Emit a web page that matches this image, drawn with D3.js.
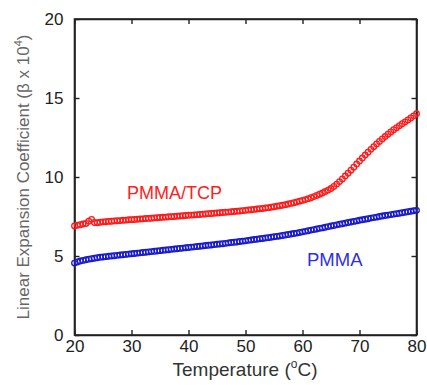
<!DOCTYPE html>
<html>
<head>
<meta charset="utf-8">
<script src="https://cdn.jsdelivr.net/npm/d3@7"></script>
<style>
	body { margin: 0; background: #fff; }
	svg { display: block; font-family: "Liberation Sans", Arial, sans-serif; }
</style>
</head>
<body>
<div id="chart"></div>
<script>
// temperature (°C), one reading every 0.5 °C
var temps = [
	20, 20.5, 21, 21.5, 22, 22.5, 23, 23.5, 24, 24.5,
	25, 25.5, 26, 26.5, 27, 27.5, 28, 28.5, 29, 29.5,
	30, 30.5, 31, 31.5, 32, 32.5, 33, 33.5, 34, 34.5,
	35, 35.5, 36, 36.5, 37, 37.5, 38, 38.5, 39, 39.5,
	40, 40.5, 41, 41.5, 42, 42.5, 43, 43.5, 44, 44.5,
	45, 45.5, 46, 46.5, 47, 47.5, 48, 48.5, 49, 49.5,
	50, 50.5, 51, 51.5, 52, 52.5, 53, 53.5, 54, 54.5,
	55, 55.5, 56, 56.5, 57, 57.5, 58, 58.5, 59, 59.5,
	60, 60.5, 61, 61.5, 62, 62.5, 63, 63.5, 64, 64.5,
	65, 65.5, 66, 66.5, 67, 67.5, 68, 68.5, 69, 69.5,
	70, 70.5, 71, 71.5, 72, 72.5, 73, 73.5, 74, 74.5,
	75, 75.5, 76, 76.5, 77, 77.5, 78, 78.5, 79, 79.5,
	80
];

var pmmaTcp = [
	6.90, 6.95, 6.98, 7.03, 7.06, 7.20, 7.32, 7.12, 7.10, 7.14,
	7.16, 7.17, 7.19, 7.20, 7.22, 7.23, 7.24, 7.26, 7.27, 7.29,
	7.30, 7.31, 7.33, 7.34, 7.35, 7.37, 7.38, 7.39, 7.41, 7.42,
	7.44, 7.45, 7.46, 7.48, 7.49, 7.50, 7.52, 7.53, 7.55, 7.56,
	7.58, 7.59, 7.60, 7.62, 7.63, 7.65, 7.66, 7.68, 7.69, 7.71,
	7.72, 7.74, 7.75, 7.77, 7.78, 7.80, 7.82, 7.83, 7.85, 7.87,
	7.89, 7.91, 7.93, 7.95, 7.97, 7.99, 8.01, 8.04, 8.06, 8.09,
	8.12, 8.15, 8.18, 8.21, 8.25, 8.29, 8.33, 8.37, 8.42, 8.47,
	8.52, 8.57, 8.63, 8.69, 8.76, 8.83, 8.91, 8.99, 9.08, 9.17,
	9.27, 9.40, 9.55, 9.71, 9.88, 10.06, 10.24, 10.43, 10.62, 10.82,
	11.01, 11.20, 11.39, 11.57, 11.75, 11.92, 12.09, 12.25, 12.41, 12.56,
	12.71, 12.85, 12.99, 13.12, 13.25, 13.37, 13.49, 13.61, 13.74, 13.87,
	14.00
];

var pmma = [
	4.55, 4.62, 4.68, 4.72, 4.76, 4.80, 4.83, 4.86, 4.89, 4.92,
	4.94, 4.96, 4.98, 5.00, 5.02, 5.04, 5.06, 5.08, 5.10, 5.12,
	5.14, 5.16, 5.18, 5.20, 5.22, 5.24, 5.26, 5.28, 5.30, 5.32,
	5.34, 5.36, 5.38, 5.40, 5.42, 5.44, 5.46, 5.48, 5.50, 5.52,
	5.54, 5.56, 5.58, 5.60, 5.62, 5.64, 5.66, 5.68, 5.70, 5.72,
	5.74, 5.76, 5.78, 5.80, 5.83, 5.85, 5.87, 5.89, 5.92, 5.94,
	5.96, 5.99, 6.01, 6.04, 6.06, 6.09, 6.11, 6.14, 6.16, 6.19,
	6.22, 6.24, 6.27, 6.30, 6.33, 6.36, 6.39, 6.42, 6.45, 6.49,
	6.53, 6.56, 6.60, 6.64, 6.67, 6.71, 6.75, 6.78, 6.82, 6.86,
	6.90, 6.93, 6.97, 7.01, 7.04, 7.08, 7.12, 7.15, 7.19, 7.22,
	7.26, 7.29, 7.33, 7.36, 7.40, 7.43, 7.46, 7.50, 7.53, 7.56,
	7.59, 7.62, 7.65, 7.68, 7.71, 7.74, 7.77, 7.80, 7.83, 7.86,
	7.89
];

var xTicks = [20, 30, 40, 50, 60, 70, 80];
var yTicks = [0, 5, 10, 15, 20];

var W = 427, H = 385;
var mLeft = 74.5, mRight = 416.5, mTop = 19, mBottom = 335;

var svg = d3.select("#chart").append("svg")
	.attr("width", W)
	.attr("height", H);

var x = d3.scaleLinear().domain([20, 80]).range([mLeft, mRight]);
var y = d3.scaleLinear().domain([0, 20]).range([mBottom, mTop]);

// inward ticks on all four sides, labels only bottom / left
var xAxis = d3.axisBottom(x).tickValues(xTicks).tickSizeInner(-5).tickSizeOuter(0).tickPadding(5);
var yAxis = d3.axisLeft(y).tickValues(yTicks).tickSizeInner(-5).tickSizeOuter(0).tickPadding(11);

var gx = svg.append("g").attr("transform", "translate(0," + mBottom + ")").call(xAxis);
var gy = svg.append("g").attr("transform", "translate(" + mLeft + ",0)").call(yAxis);
var gxt = svg.append("g").attr("transform", "translate(0," + mTop + ")")
	.call(d3.axisTop(x).tickValues(xTicks).tickSizeInner(-5).tickSizeOuter(0).tickFormat(""));
var gyr = svg.append("g").attr("transform", "translate(" + mRight + ",0)")
	.call(d3.axisRight(y).tickValues(yTicks).tickSizeInner(-5).tickSizeOuter(0).tickFormat(""));

[gx, gy, gxt, gyr].forEach(function(g){
	g.select(".domain").attr("stroke", "#222").attr("stroke-width", 1.6);
	g.selectAll(".tick line").attr("stroke", "#222").attr("stroke-width", 1.4);
	g.selectAll(".tick text").attr("fill", "#222").style("font-size", "17px").attr("font-family", null);
});

// closed frame
svg.append("rect")
	.attr("x", mLeft).attr("y", mTop)
	.attr("width", mRight - mLeft).attr("height", mBottom - mTop)
	.attr("fill", "none").attr("stroke", "#222").attr("stroke-width", 1.6);

function drawSeries(vals, color){
	svg.append("g").selectAll("circle")
		.data(vals)
		.enter()
		.append("circle")
		.attr("cx", function(d, i){ return x(temps[i]); })
		.attr("cy", function(d){ return y(d); })
		.attr("r", 2.8)
		.attr("fill", "none")
		.attr("stroke", color)
		.attr("stroke-width", 1.3);
}

drawSeries(pmmaTcp, "#ff1a1a");
drawSeries(pmma, "#1a1acc");

svg.append("text")
	.attr("x", 127).attr("y", 199)
	.attr("fill", "#ff2020")
	.style("font-size", "18px")
	.text("PMMA/TCP");

svg.append("text")
	.attr("x", 307).attr("y", 266)
	.attr("fill", "#3030e0")
	.style("font-size", "18.5px")
	.text("PMMA");

// axis titles
var xt = svg.append("text")
	.attr("x", 245)
	.attr("y", 376)
	.attr("text-anchor", "middle")
	.attr("fill", "#333")
	.style("font-size", "19px");
xt.append("tspan").text("Temperature (");
xt.append("tspan").attr("dy", -8).style("font-size", "12px").text("o");
xt.append("tspan").attr("dy", 8).text("C)");

var yt = svg.append("text")
	.attr("transform", "translate(29," + ((mTop + mBottom) / 2) + ") rotate(-90)")
	.attr("text-anchor", "middle")
	.attr("fill", "#666")
	.style("font-size", "17px");
yt.append("tspan").text("Linear Expansion Coefficient (\u03B2 x 10");
yt.append("tspan").attr("dy", -7).style("font-size", "11px").text("4");
yt.append("tspan").attr("dy", 7).text(")");
</script>
</body>
</html>
